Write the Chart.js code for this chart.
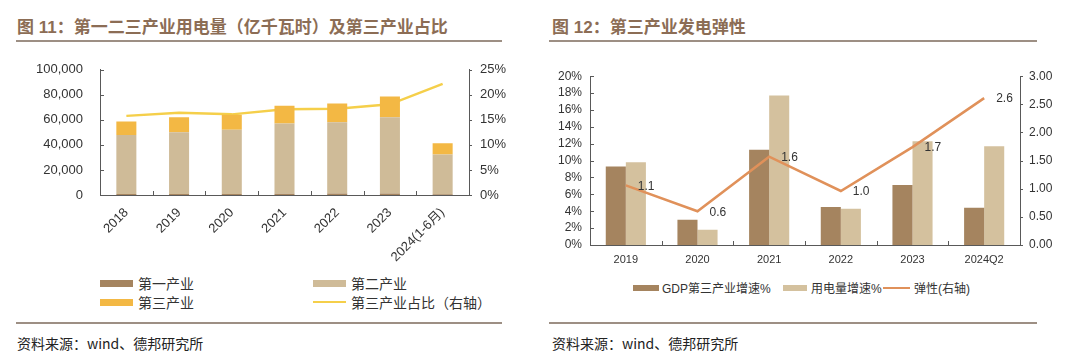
<!DOCTYPE html>
<html lang="zh">
<head>
<meta charset="utf-8">
<title>第三产业用电</title>
<script src="https://cdn.jsdelivr.net/npm/chart.js"></script>
<style>
  body { margin: 0; width: 1080px; height: 359px; background: #fff; position: relative; overflow: hidden;
         font-family: "Liberation Sans", "Noto Sans CJK SC", sans-serif; }
  .title { position: absolute; top: 13px; font: bold 17px "Liberation Sans", "Noto Sans CJK SC", sans-serif; color: #8c6d55; white-space: nowrap; }
  .rule { position: absolute; height: 2px; background: #9d8f84; }
  .src { position: absolute; top: 333px; font: 14px "Noto Sans CJK SC", "Liberation Sans", sans-serif; color: #222; white-space: nowrap; }
  .cv { position: absolute; }
  .lg { position: absolute; font: 14px "Noto Sans CJK SC", sans-serif; color: #333; white-space: nowrap; display: flex; align-items: center; }
  .lg i { display: inline-block; margin-right: 5px; }
  .lg2 { font: 12px "Liberation Sans", "Noto Sans CJK SC", sans-serif; }
</style>
</head>
<body>
<div class="title" style="left:17px">图 11：第一二三产业用电量（亿千瓦时）及第三产业占比</div>
<div class="rule" style="left:16px;width:486px;top:40px"></div>
<div class="title" style="left:552px">图 12：第三产业发电弹性</div>
<div class="rule" style="left:549px;width:488px;top:40px"></div>

<canvas id="c1" class="cv" style="left:0;top:45px"></canvas>
<canvas id="c2" class="cv" style="left:540px;top:60px"></canvas>

<div class="lg" style="left:100px;top:273px"><i style="width:33px;height:7px;background:#a5845f"></i>第一产业</div>
<div class="lg" style="left:313px;top:273px"><i style="width:33px;height:7px;background:#cfbb98"></i>第二产业</div>
<div class="lg" style="left:100px;top:292px"><i style="width:33px;height:7px;background:#f3b844"></i>第三产业</div>
<div class="lg" style="left:313px;top:292px"><i style="width:33px;height:2px;background:#f5cf4a"></i>第三产业占比（右轴）</div>

<div class="lg lg2" style="left:633px;top:279px"><i style="width:26px;height:6px;background:#a5845f;margin-right:3px"></i>GDP第三产业增速%</div>
<div class="lg lg2" style="left:783px;top:279px"><i style="width:24px;height:6px;background:#d4c19e;margin-right:4px"></i>用电量增速%</div>
<div class="lg lg2" style="left:883px;top:279px"><i style="width:27px;height:2px;background:#e0915a;margin-right:4px"></i>弹性(右轴)</div>

<div class="rule" style="left:16px;width:486px;top:322px"></div>
<div class="rule" style="left:549px;width:488px;top:322px"></div>
<div class="src" style="left:17px">资料来源：wind、德邦研究所</div>
<div class="src" style="left:552px">资料来源：wind、德邦研究所</div>

<script>
// 图11 数据（亿千瓦时）
const years = ['2018', '2019', '2020', '2021', '2022', '2023', '2024(1-6月)'];
const primary = [728, 780, 859, 1023, 1146, 1278, 587];
const secondary = [47235, 49362, 51215, 56131, 57001, 60745, 31713];
const tertiary = [10801, 11863, 12087, 14231, 14859, 16694, 9069];
const tertiaryShare = [15.8, 16.4, 16.1, 17.1, 17.2, 18.1, 22.2];

// 图12 数据
const periods = ['2019', '2020', '2021', '2022', '2023', '2024Q2'];
const gdpGrowth = [9.3, 3.0, 11.3, 4.5, 7.1, 4.4];
const powerGrowth = [9.8, 1.8, 17.7, 4.3, 12.3, 11.7];
const elasticity = [1.06, 0.6, 1.57, 0.96, 1.74, 2.61];

Chart.defaults.font.family = '"Liberation Sans", "Noto Sans CJK SC", sans-serif';
Chart.defaults.color = '#333';
Chart.defaults.animation = false;

const axisColor = '#595959';

// short tick marks on the axes (inside for x and left axis)
const axisTicks = {
  id: 'axisTicks',
  afterDraw(chart) {
    const ctx = chart.ctx, a = chart.chartArea;
    ctx.save();
    ctx.strokeStyle = axisColor;
    ctx.lineWidth = 1;
    ctx.beginPath();
    const x = chart.scales.x;
    for (let i = 1; i < x.ticks.length; i++) {
      const px = Math.round((x.getPixelForTick(i - 1) + x.getPixelForTick(i)) / 2) + 0.5;
      ctx.moveTo(px, a.bottom);
      ctx.lineTo(px, a.bottom - 4);
    }
    ['y', 'y1'].forEach(id => {
      const s = chart.scales[id];
      s.ticks.forEach((t, i) => {
        const py = Math.round(s.getPixelForTick(i)) + 0.5;
        if (s.position === 'left') { ctx.moveTo(a.left, py); ctx.lineTo(a.left + 4, py); }
        else { ctx.moveTo(a.right, py); ctx.lineTo(a.right + 3, py); }
      });
    });
    ctx.stroke();
    ctx.restore();
  }
};

function fixWidth(w) { return s => { s.width = w; }; }
function fixHeight(h) { return s => { s.height = h; }; }

const noGrid = { display: false, drawTicks: false };

// ---------- 图11 ----------
const c1 = document.getElementById('c1');
c1.width = 515; c1.height = 220;
new Chart(c1, {
  type: 'bar',
  data: {
    labels: years,
    datasets: [
      { label: '第三产业占比（右轴）', type: 'line', data: tertiaryShare, yAxisID: 'y1',
        borderColor: '#f5cf4a', borderWidth: 2.5, pointRadius: 0, tension: 0, order: 5 },
      { label: '第一产业', data: primary, backgroundColor: '#a5845f', stack: 's', order: 1 },
      { label: '第二产业', data: secondary, backgroundColor: '#cfbb98', stack: 's', order: 1 },
      { label: '第三产业', data: tertiary, backgroundColor: '#f3b844', stack: 's', order: 1 }
    ]
  },
  options: {
    responsive: false,
    layout: { padding: { top: 9, left: 0, right: 0, bottom: 0 } },
    datasets: { bar: { barPercentage: 0.38, categoryPercentage: 1 } },
    plugins: { legend: { display: false }, tooltip: { enabled: false } },
    scales: {
      x: {
        stacked: true,
        afterFit: fixHeight(70),
        grid: noGrid,
        border: { display: true, color: axisColor },
        ticks: { font: { size: 13 }, color: '#333', maxRotation: 45, minRotation: 45, padding: 10 }
      },
      y: {
        stacked: true, min: 0, max: 100000,
        afterFit: fixWidth(100),
        grid: noGrid,
        border: { display: true, color: axisColor },
        ticks: { stepSize: 20000, font: { size: 13 }, color: '#333', padding: 17, autoSkip: false,
                 callback: v => v.toLocaleString('en-US') }
      },
      y1: {
        position: 'right', min: 0, max: 25,
        afterFit: fixWidth(46),
        grid: noGrid,
        border: { display: true, color: axisColor },
        ticks: { stepSize: 5, font: { size: 13 }, color: '#333', padding: 11, autoSkip: false, callback: v => v + '%' }
      }
    }
  },
  plugins: [axisTicks]
});

// ---------- 图12 ----------
const lineLabels = {
  id: 'lineLabels',
  afterDatasetsDraw(chart) {
    const ctx = chart.ctx;
    const meta = chart.getDatasetMeta(2);
    ctx.save();
    ctx.font = '12px "Liberation Sans", sans-serif';
    ctx.fillStyle = '#333';
    ctx.textAlign = 'left';
    ctx.textBaseline = 'middle';
    meta.data.forEach((pt, i) => {
      ctx.fillText(elasticity[i].toFixed(1), pt.x + 12, pt.y + 1);
    });
    ctx.restore();
  }
};

const c2 = document.getElementById('c2');
c2.width = 540; c2.height = 210;
new Chart(c2, {
  type: 'bar',
  data: {
    labels: periods,
    datasets: [
      { label: 'GDP第三产业增速%', data: gdpGrowth, backgroundColor: '#a5845f', order: 1 },
      { label: '用电量增速%', data: powerGrowth, backgroundColor: '#d4c19e', order: 1 },
      { label: '弹性(右轴)', type: 'line', data: elasticity, yAxisID: 'y1',
        borderColor: '#e0915a', borderWidth: 2.5, pointRadius: 0, tension: 0, order: 0 }
    ]
  },
  options: {
    responsive: false,
    layout: { padding: { top: 14, left: 0, right: 0, bottom: 0 } },
    datasets: { bar: { barPercentage: 1, categoryPercentage: 0.56 } },
    plugins: { legend: { display: false }, tooltip: { enabled: false } },
    scales: {
      x: {
        afterFit: fixHeight(25),
        grid: noGrid,
        border: { display: true, color: axisColor },
        ticks: { font: { size: 11 }, color: '#333', maxRotation: 0, padding: 8 }
      },
      y: {
        min: 0, max: 20,
        afterFit: fixWidth(50),
        grid: noGrid,
        border: { display: true, color: axisColor },
        ticks: { stepSize: 2, font: { size: 12 }, color: '#333', padding: 8, autoSkip: false, callback: v => v + '%' }
      },
      y1: {
        position: 'right', min: 0, max: 3,
        afterFit: fixWidth(60),
        grid: noGrid,
        border: { display: true, color: axisColor },
        ticks: { stepSize: 0.5, font: { size: 12 }, color: '#333', padding: 9, autoSkip: false, callback: v => v.toFixed(2) }
      }
    }
  },
  plugins: [axisTicks, lineLabels]
});
</script>
</body>
</html>
